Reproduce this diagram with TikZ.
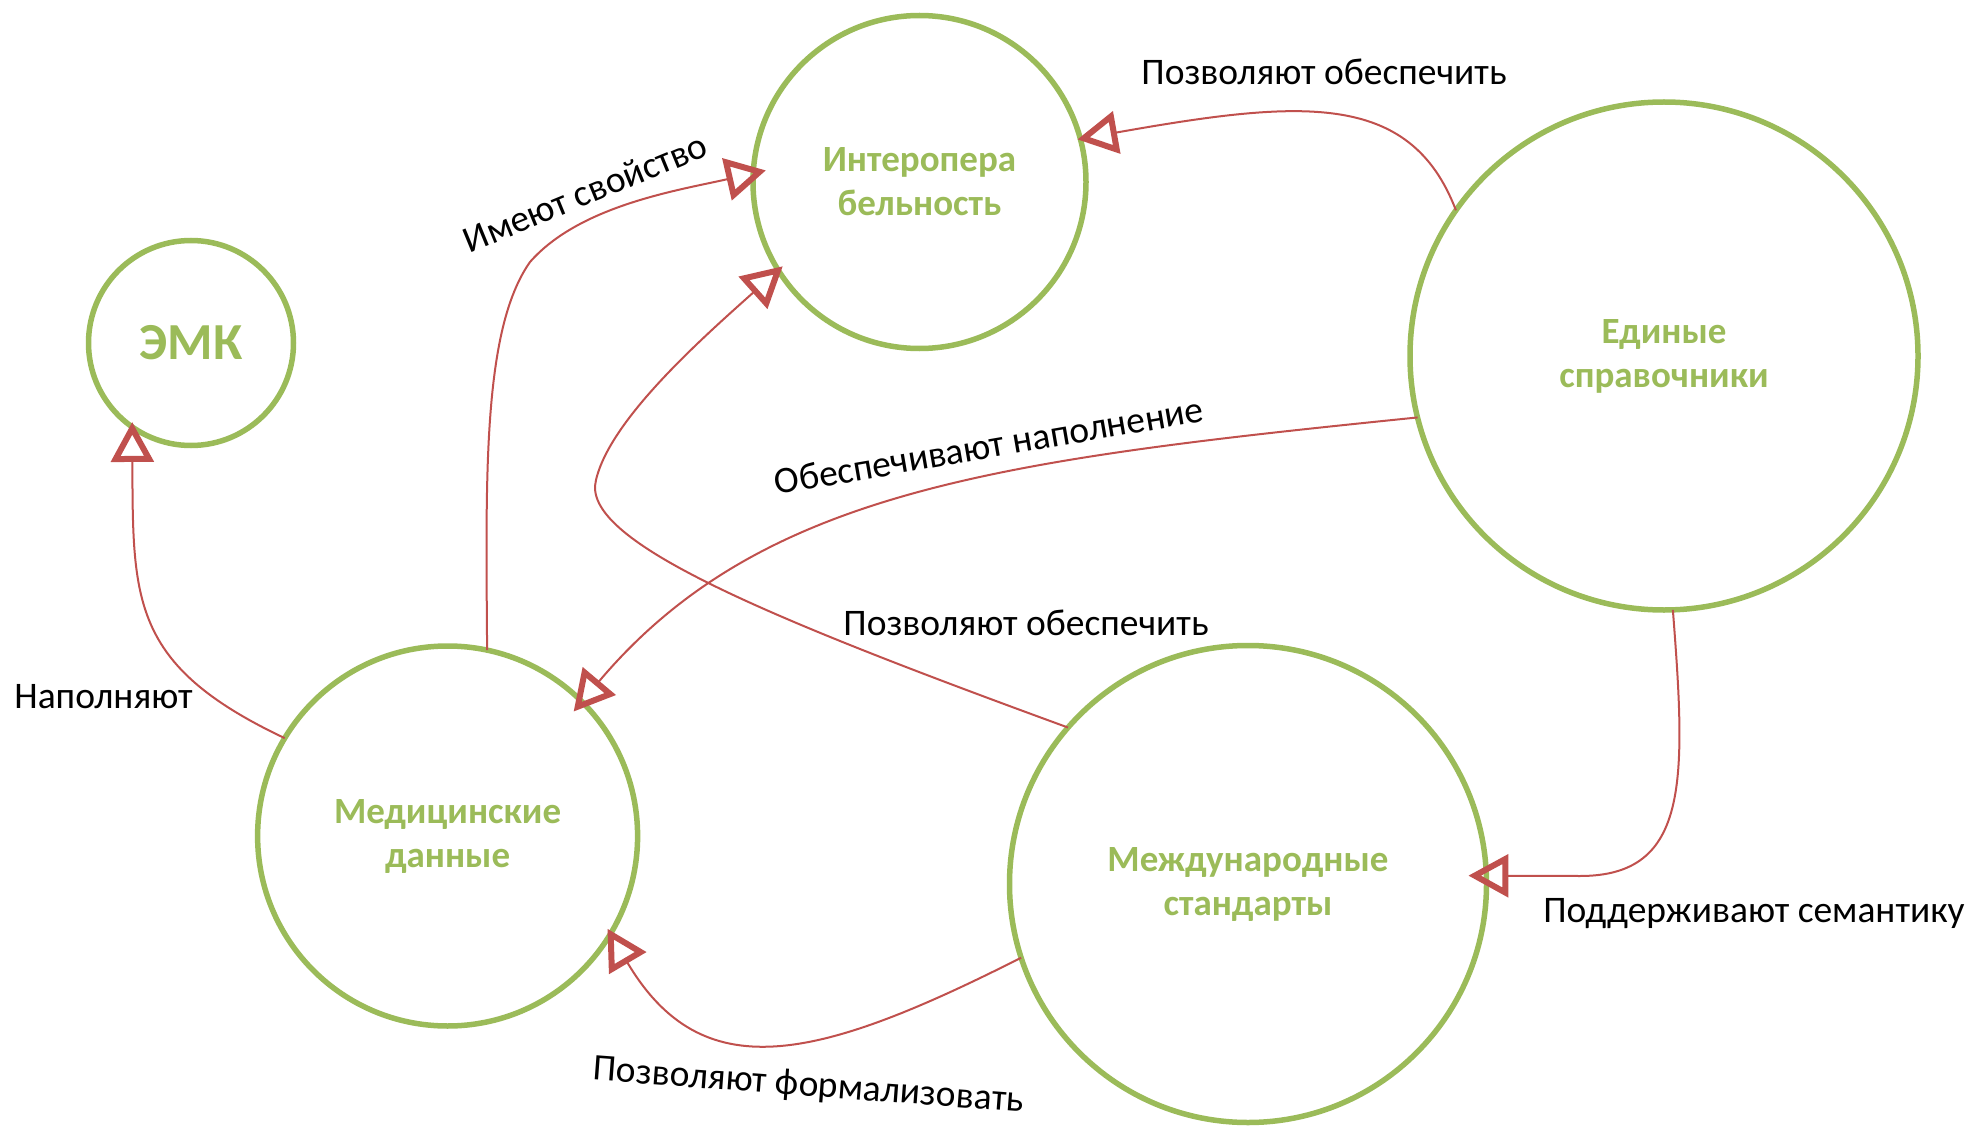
\documentclass[tikz,border=0pt]{standalone}
\usepackage{fontspec}
\setmainfont{Carlito}
\usetikzlibrary{arrows.meta}
\definecolor{cgreen}{HTML}{9BBB59}
\definecolor{cred}{HTML}{C0504D}
\tikzset{redtip/.tip={Triangle[open, length=40pt, width=42pt, line width=6pt]}}
\begin{document}
\begin{tikzpicture}[x=1pt,y=-1pt,
  circ/.style={circle, draw=cgreen, line width=5.5pt, inner sep=0pt, outer sep=0pt,
    minimum size=#1, align=center, text=cgreen,
    font=\bfseries\fontsize{37}{44}\selectfont},
  conn/.style={draw=cred, line width=2pt, -redtip},
  lbl/.style={anchor=base, inner sep=0pt, font=\fontsize{37.5}{44}\selectfont}]
\useasboundingbox (0,0) rectangle (1966,1126);

% circles
\node[circ=205pt, font=\bfseries\fontsize{52}{60}\selectfont] (emk) at (191,343) {ЭМК};
\node[circ=333pt] (int) at (919.5,182) {Интеропера\\бельность};
\node[circ=508pt] (edin) at (1664,356) {Единые\\справочники};
\node[circ=380pt] (med) at (447.6,836) {Медицинские\\данные};
\node[circ=477pt] (mezh) at (1248,884) {Международные\\стандарты};

% connectors
\draw[conn, shorten >=-5pt] (med.149.5) .. controls (130,665) and (133,600) .. (emk.235);
\draw[conn, shorten >=-13pt] (med.78) .. controls (486,480) and (482,330) .. (530,262)
   .. controls (580,205) and (680,190) .. (int.177);
\draw[conn, shorten >=-6pt] (mezh.139) .. controls (760,615) and (580,540) .. (596,480)
   .. controls (610,420) and (700,340) .. (int.212);
\draw[conn, shorten >=-3pt] (edin.145) .. controls (1410,90) and (1300,100) .. (int.15);
\draw[conn, shorten >=-13pt] (edin.194) .. controls (1000,460) and (760,490) .. (med.45);
\draw[conn, shorten >=-6pt] (mezh.198) .. controls (816,1061.5) and (702,1089) .. (med.329);
\draw[conn, shorten >=-18pt] (edin.272) .. controls (1686,780) and (1690,876) .. (1580,876) -- (mezh.2);

% labels
\node[lbl] (l1) at (1324,85) {Позволяют обеспечить};
\node[lbl, rotate=22.3] (l2) at (590,204) {Имеют свойство};
\node[lbl, rotate=9.8] (l3) at (991,458) {Обеспечивают наполнение};
\node[lbl] (l4) at (1026,635) {Позволяют обеспечить};
\node[lbl] (l5) at (103.5,708) {Наполняют};
\node[lbl] (l6) at (1754,922) {Поддерживают семантику};
\node[lbl, rotate=-4.3] (l7) at (808,1096) {Позволяют формализовать};
\end{tikzpicture}
\end{document}
